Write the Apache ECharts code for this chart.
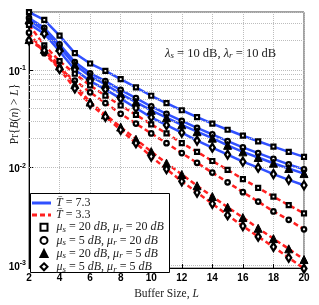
<!DOCTYPE html>
<html><head><meta charset="utf-8">
<script src="https://cdn.jsdelivr.net/npm/echarts@6/dist/echarts.min.js"></script>
<style>html,body{margin:0;padding:0;background:#fff}#c{width:319px;height:305px}</style>
</head><body><div id="c"></div>
<script>
const bufferSize = [2,3,4,5,6,7,8,9,10,11,12,13,14,15,16,17,18,19,20];
// T = 7.3 (blue solid)
const blueSq  = [0.389,0.324,0.224,0.148,0.116,0.0977,0.0804,0.0661,0.0543,0.0457,0.0386,0.0329,0.0282,0.0244,0.0212,0.0186,0.0164,0.0145,0.0129];
const blueCi  = [0.339,0.269,0.182,0.120,0.0923,0.0767,0.0624,0.0513,0.0422,0.0355,0.0300,0.0255,0.0219,0.0187,0.0161,0.0141,0.0123,0.0108,0.0096];
const blueTr  = [0.324,0.251,0.170,0.112,0.0861,0.0708,0.0569,0.0468,0.0385,0.0324,0.0274,0.0233,0.0200,0.0169,0.0145,0.0127,0.0111,0.0098,0.0087];
const blueDi  = [0.295,0.234,0.155,0.100,0.0767,0.0631,0.0507,0.0407,0.0327,0.0272,0.0228,0.0189,0.0160,0.0136,0.0115,0.0100,0.0086,0.0075,0.0066];
// T = 3.3 (red dashed)
const redSq   = [0.288,0.178,0.123,0.0912,0.0692,0.0543,0.0432,0.0347,0.0277,0.0224,0.0178,0.0145,0.0117,0.0095,0.00764,0.00621,0.00505,0.00414,0.00341];
const redCi   = [0.240,0.148,0.102,0.0776,0.0589,0.0457,0.0355,0.0282,0.0224,0.0178,0.0141,0.0112,0.0089,0.00708,0.00562,0.00450,0.00357,0.00293,0.00234];
const redTr   = [0.204,0.162,0.110,0.0708,0.0468,0.0347,0.0260,0.0195,0.0146,0.0111,0.00851,0.00653,0.00507,0.00394,0.00309,0.00240,0.00188,0.00148,0.00115];
const redDi   = [0.200,0.158,0.102,0.0646,0.0447,0.0331,0.0243,0.0178,0.0130,0.00966,0.00724,0.00556,0.00427,0.00327,0.00253,0.00197,0.00155,0.00120,0.00093];
const xTicks = [2,4,6,8,10,12,14,16,18,20];
const yMajor = [0.001,0.01,0.1];
const yMinorGrid = [0.002,0.003,0.004,0.005,0.006,0.007,0.008,0.009,0.02,0.03,0.04,0.05,0.06,0.07,0.08,0.09,0.2,0.3];

const nameT73 = 'T73', nameT33 = 'T33';
const nameA = 'A', nameB = 'B', nameC = 'C', nameD = 'D';
const legendText = {
  T73: '{i|T\u0304}{t| = 7.3}',
  T33: '{i|T\u0304}{t| = 3.3}',
  A: '{sp| }{i|μ}{sub|s}{t| = 20 }{i|dB}{t|, }{i|μ}{sub|r}{t| = 20 }{i|dB}',
  B: '{sp| }{i|μ}{sub|s}{t| = 5 }{i|dB}{t|, }{i|μ}{sub|r}{t| = 20 }{i|dB}',
  C: '{sp| }{i|μ}{sub|s}{t| = 20 }{i|dB}{t|, }{i|μ}{sub|r}{t| = 5 }{i|dB}',
  D: '{sp| }{i|μ}{sub|s}{t| = 5 }{i|dB}{t|, }{i|μ}{sub|r}{t| = 5 }{i|dB}'
};
const serif = 'Liberation Serif';
function richSerif(fs) {
  return {
    i: {fontFamily: serif, fontStyle: 'italic', fontSize: fs, color: '#222'},
    t: {fontFamily: serif, fontSize: fs, color: '#222'},
    sub: {fontFamily: serif, fontStyle: 'italic', fontSize: Math.round(fs * 0.72), color: '#222', padding: [5,0,0,0]},
    sp: {width: 4, fontSize: fs}
  };
}
const BLUE = '#3050ff', RED = '#ff2020';
const pair = (arr) => bufferSize.map((x, k) => [x, arr[k]]);

function lineSeries(name, arr, color, dashed) {
  return {type: 'line', name, data: pair(arr), symbol: 'none', showSymbol: false, clip: false, z: 3,
    lineStyle: {color, width: 2.5, type: dashed ? [5,3] : 'solid'}, itemStyle: {color}};
}
const markerConf = {
  A: {symbol: 'rect', size: 4, fill: '#fff', bw: 2.2},
  B: {symbol: 'circle', size: 4.5, fill: '#fff', bw: 2.2},
  C: {symbol: 'triangle', size: 8, fill: '#000', bw: 1},
  D: {symbol: 'diamond', size: [5,8], fill: '#fff', bw: 2.4}
};
function markerSeries(name, arr, shape) {
  const conf = markerConf[shape];
  return {type: 'scatter', name, data: pair(arr), symbol: conf.symbol, symbolSize: conf.size, clip: false, z: 5,
    itemStyle: {color: conf.fill, borderColor: '#000', borderWidth: conf.bw, opacity: 1}};
}

const series = [
  {type: 'line', name: 'grid', data: [], z: 1, silent: true,
    markLine: {silent: true, symbol: ['none','none'], label: {show: false}, animation: false,
      lineStyle: {type: 'dotted', color: '#bdbdbd', width: 1},
      data: yMinorGrid.map(v => ({yAxis: v}))}},
  lineSeries(nameT73, blueSq, BLUE, false),
  lineSeries(nameT73, blueCi, BLUE, false),
  lineSeries(nameT73, blueTr, BLUE, false),
  lineSeries(nameT73, blueDi, BLUE, false),
  lineSeries(nameT33, redSq, RED, true),
  lineSeries(nameT33, redCi, RED, true),
  lineSeries(nameT33, redTr, RED, true),
  lineSeries(nameT33, redDi, RED, true),
  markerSeries(nameA, blueSq, 'A'), markerSeries(nameB, blueCi, 'B'),
  markerSeries(nameC, blueTr, 'C'), markerSeries(nameD, blueDi, 'D'),
  markerSeries(nameA, redSq, 'A'), markerSeries(nameB, redCi, 'B'),
  markerSeries(nameC, redTr, 'C'), markerSeries(nameD, redDi, 'D')
];

const LFS = 12;
const chart = echarts.init(document.getElementById('c'), null, {renderer: 'canvas'});
chart.setOption({
  animation: false,
  backgroundColor: '#fff',
  grid: {left: 29, right: 15, top: 12, bottom: 31.5, show: true, borderColor: '#444', borderWidth: 1, backgroundColor: '#fff'},
  xAxis: {
    type: 'value', min: 2, max: 20, interval: 2,
    axisLine: {lineStyle: {color: '#000', width: 1}},
    axisTick: {inside: true, length: 4, lineStyle: {color: '#000'}},
    splitLine: {show: true, lineStyle: {type: 'dotted', color: '#bdbdbd'}},
    axisLabel: {margin: 5, color: '#000', fontFamily: 'Liberation Sans', fontWeight: 'bold', fontSize: 10,
      formatter: v => xTicks.includes(v) ? String(v) : ''},
    name: 'Buffer Size, {i|L}', nameLocation: 'middle', nameGap: 19,
    nameTextStyle: {fontFamily: serif, fontSize: 11.5, color: '#222', rich: richSerif(11.5)}
  },
  yAxis: {
    type: 'log', logBase: 10, min: 0.00094, max: 0.39,
    axisLine: {lineStyle: {color: '#000', width: 1}},
    axisTick: {inside: true, length: 4, lineStyle: {color: '#000'}},
    splitLine: {show: true, lineStyle: {type: 'dotted', color: '#bdbdbd'}},
    axisLabel: {margin: 3, color: '#000',
      formatter: v => {
        const e = Math.log10(v);
        if (Math.abs(e - Math.round(e)) > 1e-6) return '';
        if (!yMajor.some(m => Math.abs(Math.log10(m) - e) < 1e-6)) return '';
        return '{b|10}{s|' + Math.round(e) + '}';
      },
      rich: {
        b: {fontFamily: 'Liberation Sans', fontWeight: 'bold', fontSize: 10, color: '#000', padding: [4,0,0,0]},
        s: {fontFamily: 'Liberation Sans', fontWeight: 'bold', fontSize: 7, color: '#000', padding: [0,0,4,0]}
      }
    }
  },
  legend: [
    {
      orient: 'vertical', left: 32, top: 197, selectedMode: false, z: 20,
      itemWidth: 19, itemHeight: 3, itemGap: 0, padding: 0,
      data: [
        {name: nameT73, icon: 'rect', itemStyle: {color: BLUE, borderWidth: 0}},
        {name: nameT33, icon: 'path://M0,0h5v3h-5z M8,0h5v3h-5z M16,0h3v3h-3z', itemStyle: {color: RED, borderWidth: 0}}
      ],
      formatter: n => legendText[n],
      textStyle: {lineHeight: 12, rich: richSerif(LFS), fontFamily: serif, fontSize: LFS}
    },
    {
      orient: 'vertical', left: 39.5, top: 221, selectedMode: false, z: 20,
      itemWidth: 7, itemHeight: 7, itemGap: 0, padding: 0,
      data: [nameA, nameB, nameC, nameD],
      formatter: n => legendText[n],
      textStyle: {lineHeight: 12.4, rich: richSerif(LFS), fontFamily: serif, fontSize: LFS}
    }
  ],
  graphic: [
    {type: 'rect', z: 15, shape: {x: 30.5, y: 193.5, width: 139, height: 79},
      style: {fill: '#fff', stroke: '#000', lineWidth: 1}},
    {type: 'text', x: 15, y: 114, rotation: Math.PI / 2, z: 10,
      style: {text: 'Pr{{i|B}({i|n}) > {i|L}}', fontFamily: serif, fontSize: 11.5, fill: '#222',
        align: 'center', verticalAlign: 'middle', rich: richSerif(11.5)}},
    {type: 'text', left: 165, top: 47, z: 10,
      style: {text: '{i|λ}{sub|s}{t| = 10 dB, }{i|λ}{sub|r}{t| = 10 dB}', fontFamily: serif, fontSize: 12.5, fill: '#222', rich: richSerif(12.5)}}
  ],
  series
});
</script></body></html>
